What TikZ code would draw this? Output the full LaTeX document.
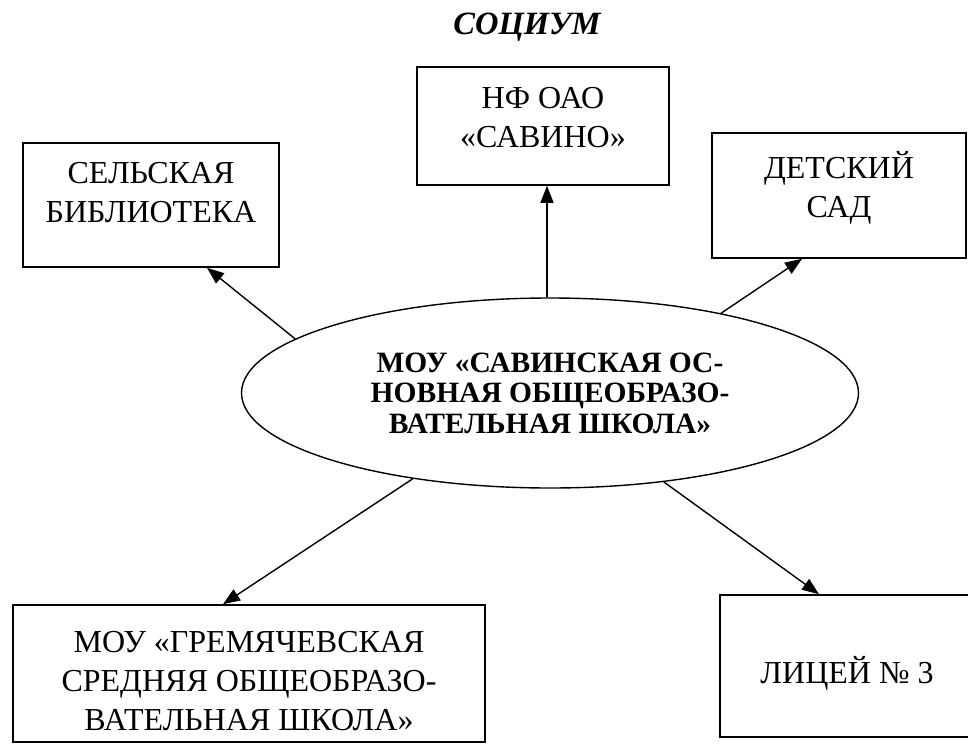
\documentclass[tikz,border=0pt]{standalone}
\usepackage{fontspec}
\setmainfont{Liberation Serif}
\usetikzlibrary{arrows.meta,shapes.geometric}
\begin{document}
\begin{tikzpicture}[x=1pt,y=-1pt,
  box/.style={draw, line width=1.6pt, inner sep=0pt},
  boxtext/.style={align=center, font=\fontsize{32}{39}\selectfont, inner sep=0pt},
  arr/.style={line width=1.4pt, -{Triangle[length=17pt,width=13pt]}},
]
\useasboundingbox (0,0) rectangle (968,744);
\node[font=\bfseries\itshape\fontsize{32.5}{36}\selectfont, inner sep=0pt] (title) at (527,27) {СОЦИУМ};
% boxes
\node[box, minimum width=256pt, minimum height=124pt] (lib) at (151,205) {};
\node[boxtext] (libtxt) at (151,193) {СЕЛЬСКАЯ\\БИБЛИОТЕКА};
\node[box, minimum width=252pt, minimum height=118pt] (nf) at (543,126) {};
\node[boxtext] (nftxt) at (543,118) {НФ ОАО\\«САВИНО»};
\node[box, minimum width=254pt, minimum height=125pt] (det) at (839,195.5) {};
\node[boxtext] (dettxt) at (839,188) {ДЕТСКИЙ\\САД};
\node[box, minimum width=472pt, minimum height=137pt] (gre) at (249,673.5) {};
\node[boxtext] (gretxt) at (249,681) {МОУ «ГРЕМЯЧЕВСКАЯ\\СРЕДНЯЯ ОБЩЕОБРАЗО-\\ВАТЕЛЬНАЯ ШКОЛА»};
\node[box, minimum width=252pt, minimum height=142pt] (lic) at (846,666) {};
\node[boxtext] (lictxt) at (847,673) {ЛИЦЕЙ № 3};
% ellipse
\node[draw, ellipse, line width=1.4pt, inner sep=0pt, minimum width=617pt, minimum height=190pt,
  align=center, font=\bfseries\fontsize{29.5}{30.5}\selectfont] (ell) at (550,393)
  {МОУ «САВИНСКАЯ ОС-\\НОВНАЯ ОБЩЕОБРАЗО-\\ВАТЕЛЬНАЯ ШКОЛА»};
% arrows
\draw[arr] (ell.168.8) -- ([xshift=56pt]lib.south);
\draw[arr] ([xshift=-3pt]ell.north) -- ([xshift=-3pt]ell.north |- nf.south);
\draw[arr] (ell.25.7) -- ([xshift=-37pt]det.south);
\draw[arr] (ell.212.8) -- ([xshift=-26pt]gre.north);
\draw[arr] (ell.322.3) -- ([xshift=-27pt]lic.north);
\end{tikzpicture}
\end{document}
